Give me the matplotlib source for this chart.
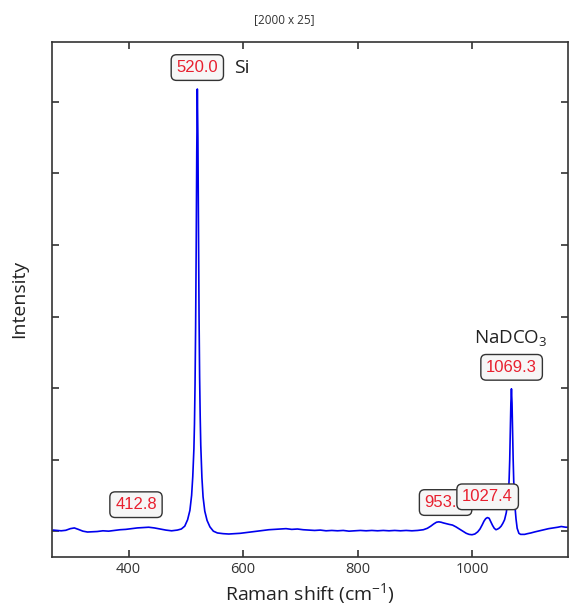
# Raman spectrum of Si reference + NaDCO3 with peak labels
import matplotlib.pyplot as plt

plt.rcParams['mathtext.fontset'] = 'custom'
plt.rcParams['mathtext.rm'] = 'Open Sans'
plt.rcParams['mathtext.it'] = 'Open Sans:italic'

# wavenumber (cm-1) and intensity (counts) sampled along the spectrum
shift = [268, 275, 282, 290, 298, 305, 312, 320, 328, 336, 345, 355, 365, 375,
         385, 395, 405, 415, 425, 435, 445, 455, 465, 475, 485, 492, 498, 503,
         507, 510, 512, 514, 515, 516, 517, 518, 519, 520, 521, 522, 523, 524,
         525, 526, 528, 530, 533, 537, 542, 548, 555, 565, 575, 585, 595, 605,
         615, 625, 635, 645, 655, 665, 675, 685, 695, 705, 715, 725, 735, 745,
         755, 765, 775, 785, 795, 805, 815, 825, 835, 845, 855, 865, 875, 885,
         895, 905, 915, 922, 928, 933, 938, 942, 946, 950, 955, 960, 966, 972,
         978, 984, 990, 995, 1000, 1005, 1010, 1014, 1018, 1021, 1024, 1027,
         1030, 1033, 1036, 1039, 1042, 1045, 1048, 1051, 1054, 1057, 1060, 1062,
         1064, 1065, 1066, 1067, 1068, 1069, 1070, 1071, 1072, 1073, 1074, 1075,
         1077, 1079, 1082, 1085, 1088, 1092, 1097, 1103, 1110, 1118, 1126, 1134,
         1142, 1150, 1156, 1160, 1164, 1168]
intensity = [15, 10, 5, 12, 35, 45, 25, 0, -12, -8, -5, 5, 0, 10,
             20, 25, 35, 45, 50, 55, 45, 30, 15, 5, 15, 30, 70, 160,
             290, 500, 760, 1150, 1500, 2050, 2850, 3950, 5300, 6180, 5500, 4150, 3000, 2150,
             1600, 1200, 750, 480, 280, 150, 60, 0, -25, -35, -40, -35, -30, -20,
             -10, 0, 10, 20, 25, 30, 35, 25, 30, 20, 15, 10, 15, 5,
             10, 5, 10, 0, 5, 10, 5, 10, 5, 10, 5, 10, 5, 10,
             5, 10, 20, 40, 70, 100, 125, 130, 125, 115, 105, 95, 85, 60,
             30, 0, -30, -45, -50, -40, -10, 30, 90, 140, 175, 190,
             180, 130, 80, 40, 20, 30, 45, 70, 110, 160, 260, 380,
             560, 740, 1000, 1380, 1790, 1990, 1790, 1380, 1000, 700, 500, 360,
             170, 40, -30, -45, -45, -45, -35, -25, -10, 5, 20, 35,
             45, 55, 65, 60, 55, 55]

# peak labels: position, label height
peaks = [412.8, 520.0, 953.9, 1027.4, 1069.3]
label_y = [370, 6480, 400, 480, 2290]

fig = plt.figure(figsize=(5.69, 6.06), dpi=100)
ax = fig.add_axes([0.0914, 0.081, 0.907, 0.850])

ax.plot(shift, intensity, color='#0000ee', lw=1.2)

for p, yl in zip(peaks, label_y):
    ax.text(p, yl, f'{p:.1f}', ha='center', va='center', color='#e8202f',
            family='Liberation Sans', fontsize=12,
            bbox=dict(boxstyle='round,pad=0.32', fc='#f6f6f6', ec='#333333', lw=1))

ax.text(584, 6480, 'Si', ha='left', va='center', fontsize=14,
        family='Open Sans', color='#222222')
ax.text(1068, 2700, 'NaDCO$_3$', ha='center', va='center', fontsize=13.5,
        family='Open Sans', color='#222222')

ax.set_xlim(266, 1168)
ax.set_ylim(-360, 6840)
ax.set_xticks([400, 600, 800, 1000])
ax.set_yticks([0, 1000, 2000, 3000, 4000, 5000, 6000])
ax.set_yticklabels([])
ax.tick_params(direction='in', top=True, right=True, length=5, width=1.2,
               labelsize=10.5, labelcolor='#333333', color='#333333')
for lbl in ax.get_xticklabels():
    lbl.set_family('Open Sans')
for s in ax.spines.values():
    s.set_linewidth(1.2)
    s.set_color('#333333')

ax.set_xlabel('Raman shift (cm$^{-1}$)', fontsize=14, family='Open Sans',
              color='#222222', labelpad=3)
ax.set_ylabel('Intensity', fontsize=14, family='Open Sans', color='#222222',
              labelpad=14)
fig.text(0.5, 0.967, '[2000 x 25]', ha='center', va='center', fontsize=8.5,
         family='Open Sans', color='#333333')

fig.savefig('out.png', dpi=100)
